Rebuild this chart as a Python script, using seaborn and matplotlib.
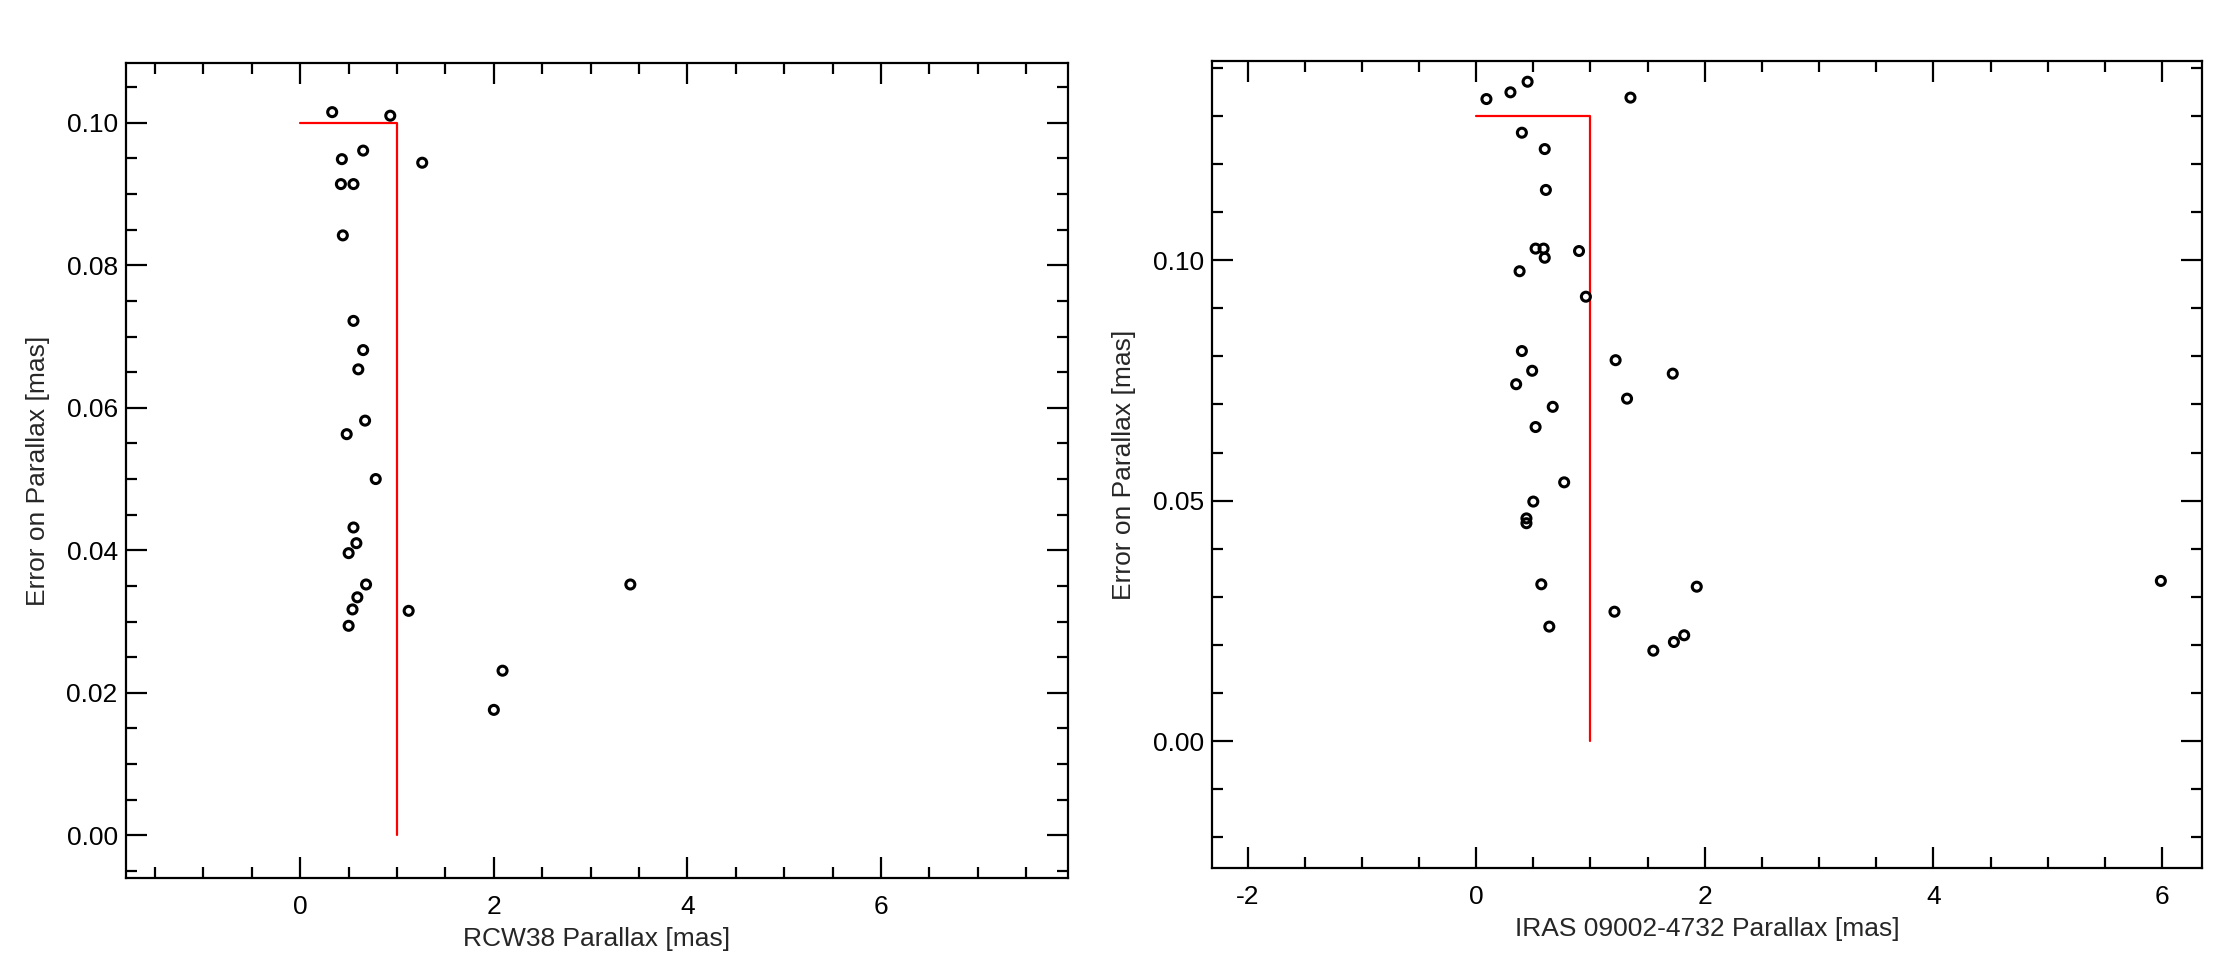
import numpy as np
import pandas as pd
import matplotlib
matplotlib.use('Agg')
import matplotlib.pyplot as plt
from matplotlib.ticker import MultipleLocator
import seaborn as sns


# RCW38 parallax [mas] and error [mas]
rcw38_plx = [0.33, 0.93, 0.65, 0.43, 1.26, 0.42, 0.55, 0.44, 0.55, 0.65, 0.60, 0.67, 0.48,
             0.78, 0.55, 0.58, 0.50, 0.68, 0.59, 0.54, 0.50, 1.12, 3.41, 2.09, 2.00]
rcw38_err = [0.1015, 0.1010, 0.0961, 0.0949, 0.0944, 0.0914, 0.0914, 0.0842, 0.0722, 0.0681,
             0.0654, 0.0582, 0.0563, 0.0500, 0.0432, 0.0410, 0.0396, 0.0352, 0.0334, 0.0317,
             0.0294, 0.0315, 0.0352, 0.0231, 0.0176]

# IRAS 09002-4732 parallax [mas] and error [mas]
iras_plx = [0.09, 0.30, 0.45, 1.35, 0.40, 0.60, 0.61, 0.52, 0.59, 0.60, 0.90, 0.38, 0.96,
            0.40, 0.49, 0.35, 1.22, 1.32, 1.72, 0.67, 0.52, 0.77, 0.50, 0.44, 0.44,
            0.57, 0.64, 1.21, 1.93, 1.55, 1.73, 1.82, 5.99]
iras_err = [0.1335, 0.1349, 0.1371, 0.1338, 0.1265, 0.1231, 0.1146, 0.1024, 0.1024, 0.1005,
            0.1019, 0.0977, 0.0924, 0.0811, 0.0770, 0.0742, 0.0792, 0.0712, 0.0764, 0.0695,
            0.0653, 0.0538, 0.0498, 0.0463, 0.0453, 0.0326, 0.0238, 0.0269, 0.0321, 0.0188,
            0.0206, 0.0220, 0.0333]

# selection cuts (parallax > 1 mas rejected, error < cut kept)
rcw38_cut_x = [0.0, 1.0, 1.0]
rcw38_cut_y = [0.10, 0.10, 0.0]
iras_cut_x = [0.0, 1.0, 1.0]
iras_cut_y = [0.13, 0.13, 0.0]

panels = [
    dict(plx=rcw38_plx, err=rcw38_err, cut_x=rcw38_cut_x, cut_y=rcw38_cut_y,
         xlabel='RCW38 Parallax [mas]', xlim=(-1.8, 7.93), ylim=(-0.006, 0.1084),
         xticks=[0, 2, 4, 6], ymaj=0.02, ymin=0.005, pos=[0.0567, 0.0854, 0.4239, 0.849]),
    dict(plx=iras_plx, err=iras_err, cut_x=iras_cut_x, cut_y=iras_cut_y,
         xlabel='IRAS 09002-4732 Parallax [mas]', xlim=(-2.31, 6.35), ylim=(-0.0264, 0.1414),
         xticks=[-2, 0, 2, 4, 6], ymaj=0.05, ymin=0.01, pos=[0.5455, 0.0958, 0.4455, 0.8406]),
]

sns.set_style('ticks')
plt.rcParams['font.family'] = ['Liberation Sans', 'DejaVu Sans']
plt.rcParams['axes.linewidth'] = 1.6
plt.rcParams['axes.unicode_minus'] = False

fig = plt.figure(figsize=(22.22, 9.6), dpi=100)

for p in panels:
    ax = fig.add_axes(p['pos'])
    df = pd.DataFrame({'plx': p['plx'], 'err': p['err']})
    sns.scatterplot(x='plx', y='err', data=df, marker='o', s=42, facecolor='none',
                    edgecolor='black', linewidth=2.2, ax=ax, zorder=3)
    ax.plot(p['cut_x'], p['cut_y'], color='red', linewidth=1.6, zorder=2)

    ax.set_xlim(*p['xlim'])
    ax.set_ylim(*p['ylim'])
    ax.set_xticks(p['xticks'])
    ax.xaxis.set_minor_locator(MultipleLocator(0.5))
    ax.yaxis.set_major_locator(MultipleLocator(p['ymaj']))
    ax.yaxis.set_minor_locator(MultipleLocator(p['ymin']))
    ax.yaxis.set_major_formatter(matplotlib.ticker.FormatStrFormatter('%.2f'))
    ax.tick_params(which='both', direction='in', top=True, right=True, width=1.6,
                   labelsize=19, colors='black')
    ax.tick_params(which='major', length=15)
    ax.tick_params(which='minor', length=8)
    ax.tick_params(axis='x', which='major', pad=12)
    ax.tick_params(axis='y', which='major', pad=6)
    for spine in ax.spines.values():
        spine.set_visible(True)
        spine.set_color('black')

    ax.set_xlabel(p['xlabel'], fontsize=19, labelpad=6)
    ax.set_ylabel('Error on Parallax [mas]', fontsize=19, labelpad=12)

fig.savefig('out.png', dpi=100)
